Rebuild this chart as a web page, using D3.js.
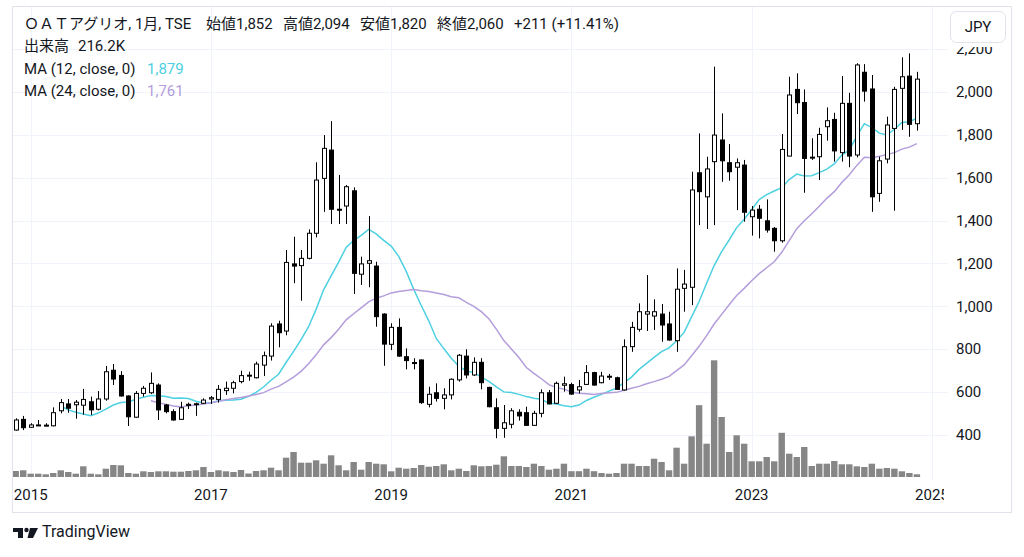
<!DOCTYPE html>
<html><head><meta charset="utf-8">
<script src="https://cdn.jsdelivr.net/npm/d3@7"></script>
<style>
html,body{margin:0;padding:0;background:#fff;}
svg text{font-family: Roboto, "Noto Sans CJK JP", sans-serif;}
</style></head><body>
<svg id="c" width="1024" height="557"></svg>
<script>
// Monthly bars Nov 2014 – Nov 2024
const firstMonth = new Date(Date.UTC(2014, 10, 1));
const opens = [423,473,436,446,446,443,513,545,541,539, 555,520,568,702,678,582,483,594,597,633, 540,509,473,538,544,548,568,566,607,618, 649,675,667,726,768,918,885,1198,1190,1224, 1341,1597,1729,1453,1468,1539,1150,1201,1188,964, 823,902,765,738,750,543,597,571,587,657, 768,680,739,622,527,431,450,506,504,445, 501,597,548,632,635,610,636,691,644,670, 667,610,812,893,964,955,964,918,840,1084, 1089,1623,1511,1675,1776,1670,1649,1659,1418,1453, 1399,1364,1306,1701,2012,1951,1692,1698,1838,1872, 1717,1947,1706,2092,2014,1527,1687,1830,2017,2074, 1852];
const highs = [478,489,455,470,455,529,568,568,563,615, 579,605,722,731,698,585,605,629,692,641, 545,520,555,551,551,571,582,633,649,653, 700,695,742,789,921,933,1263,1325,1263,1359, 1672,1799,1864,1613,1566,1555,1232,1421,1208,968, 921,944,804,758,752,625,641,618,664,778, 800,762,758,625,571,540,525,520,532,513, 613,610,649,672,644,657,726,695,695,685, 672,846,928,1014,1146,1033,1011,975,1177,1170, 1628,1807,1698,2118,1900,1757,1690,1683,1468,1473, 1499,1370,1804,2071,2087,2012,1784,1833,1928,1903, 2074,1996,2134,2130,2079,1698,1885,2024,2162,2180, 2094];
const lows = [420,423,434,442,442,440,501,504,476,495, 493,515,560,633,579,442,480,579,591,470, 501,467,470,521,489,545,545,551,587,594, 641,653,664,675,747,809,865,1108,1026,1219, 1322,1441,1384,1384,1384,1058,1100,1089,905,723, 796,765,706,706,545,529,556,520,566,649, 664,675,613,529,385,387,431,467,442,442, 483,543,545,602,587,594,633,630,641,657, 610,607,788,882,885,890,835,840,788,975, 1006,1379,1361,1379,1581,1586,1449,1395,1330,1317, 1344,1255,1297,1701,1897,1530,1683,1589,1773,1675, 1675,1649,1695,1955,1441,1488,1667,1446,1823,1791, 1820];
const closes = [470,434,447,447,445,504,551,525,553,566, 517,568,695,661,582,485,594,618,641,517, 509,470,527,543,546,563,574,613,618,644, 677,679,731,770,908,877,1205,1188,1224,1341, 1589,1737,1453,1450,1558,1154,1198,1213,952,824, 902,768,747,734,551,590,571,587,660,772, 680,739,644,532,431,457,513,489,445,501, 597,545,641,639,591,625,691,633,675,674, 613,812,902,975,975,975,913,843,1080,1104, 1543,1535,1641,1799,1679,1628,1670,1439,1449,1411, 1356,1306,1732,1986,1950,1690,1696,1802,1866,1725, 1947,1701,2126,2004,1511,1679,1846,2012,2071,1849, 2060];
const volumesK = [480,536,264,264,216,320,536,400,264,856, 264,216,664,960,936,320,264,456,400,456, 456,424,424,480,536,800,400,536,456,400, 560,280,480,536,744,536,1544,2000,1144,1144, 1336,1064,1736,936,536,1200,584,1200,1064,1016, 456,744,664,720,960,824,880,1016,536,664, 480,936,856,880,984,1656,880,880,800,1064, 880,584,664,1064,464,464,664,464,320,264, 320,1064,1064,880,880,1464,1200,536,2344,1064, 3256,5744,2664,9336,4800,2000,3336,2664,1256,1256, 1600,1256,3536,1864,1600,2400,880,1064,1064,1280, 1016,1016,856,800,1064,664,720,664,456,320, 216.2];
// closes of the five months before the visible window (Jun–Oct 2014), used only by the moving averages
const priorCloses = [741,685,662,613,423];
const priceTicks = [400,600,800,1000,1200,1400,1600,1800,2000,2200];
const yearTicks = [2015,2017,2019,2021,2023,2025];
const maPeriods = [12, 24];
const maColors = ["#4dd0e1", "#b39ddb"];

const months = d3.utcMonth.range(firstMonth, d3.utcMonth.offset(firstMonth, opens.length));
const bars = months.map((m,i)=>({i, m, o:opens[i], h:highs[i], l:lows[i], c:closes[i], v:volumesK[i]}));

const svg = d3.select("#c");
const W = 1024, H = 557;
const plot = {l:13, r:948, t:7, b:480};
const FS = 15;

const x = d3.scaleLinear().domain([0, opens.length-1]).range([15.7, 916.9]);
const monthIdx = (yr) => (yr - firstMonth.getUTCFullYear())*12 - firstMonth.getUTCMonth();
const y = d3.scaleLinear().domain([400, 2200]).range([435, 49.1]);
const yv = d3.scaleLinear().domain([0, d3.max(volumesK)]).range([477, 360.3]);

svg.append("rect").attr("width", W).attr("height", H).attr("fill", "#fff");

const defs = svg.append("defs");
defs.append("clipPath").attr("id","clipPlot").append("rect")
  .attr("x", plot.l).attr("y", plot.t).attr("width", plot.r-plot.l).attr("height", plot.b-plot.t);
defs.append("clipPath").attr("id","clipTime").append("rect")
  .attr("x", plot.l).attr("y", plot.b).attr("width", 944-plot.l).attr("height", 32);

// grid
const grid = svg.append("g").attr("clip-path","url(#clipPlot)");
grid.selectAll("line.h").data(priceTicks).join("line")
  .attr("x1", plot.l).attr("x2", plot.r)
  .attr("y1", d=>Math.round(y(d))+0.5).attr("y2", d=>Math.round(y(d))+0.5)
  .attr("stroke", "#f0f3fa").attr("stroke-width", 1);
grid.selectAll("line.v").data(yearTicks).join("line")
  .attr("y1", plot.t).attr("y2", plot.b)
  .attr("x1", d=>Math.round(x(monthIdx(d)))+0.5).attr("x2", d=>Math.round(x(monthIdx(d)))+0.5)
  .attr("stroke", "#f0f3fa").attr("stroke-width", 1);

const g = svg.append("g").attr("clip-path","url(#clipPlot)");

// volume
g.append("g").selectAll("rect").data(bars).join("rect")
  .attr("x", d=>x(d.i)-3.2).attr("width", 6.4)
  .attr("y", d=>yv(d.v)).attr("height", d=>yv(0)-yv(d.v))
  .attr("fill", "#868686");

// moving averages
const allCloses = priorCloses.concat(closes);
const off = priorCloses.length;
maPeriods.forEach((n, k) => {
  const pts = [];
  bars.forEach(b => {
    const j = b.i + off;
    if (j >= n-1) pts.push({i:b.i, v:d3.mean(allCloses.slice(j-n+1, j+1))});
  });
  g.append("path").datum(pts)
    .attr("d", d3.line().x(d=>x(d.i)).y(d=>y(d.v)))
    .attr("fill","none").attr("stroke", maColors[k]).attr("stroke-width", 1.5);
});

// candles
const cg = g.append("g");
cg.selectAll("line").data(bars).join("line")
  .attr("x1", d=>Math.round(x(d.i))+0.5).attr("x2", d=>Math.round(x(d.i))+0.5)
  .attr("y1", d=>y(d.h)).attr("y2", d=>y(d.l))
  .attr("stroke", "#000").attr("stroke-width", 1);
cg.selectAll("rect").data(bars).join("rect")
  .attr("x", d=>Math.round(x(d.i))-2+0.5).attr("width", 4)
  .attr("y", d=>y(Math.max(d.o,d.c))).attr("height", d=>Math.max(1, y(Math.min(d.o,d.c))-y(Math.max(d.o,d.c))))
  .attr("fill", d=>d.c>=d.o ? "#fff" : "#000")
  .attr("stroke", "#000").attr("stroke-width", 1);

// price axis labels
svg.append("g").selectAll("text").data(priceTicks).join("text")
  .attr("x", 956).attr("y", d=>y(d)).attr("dy","0.35em")
  .attr("font-size", FS).attr("fill", "#131722")
  .text(d=>d3.format(",")(d));

// time axis labels
svg.append("g").attr("clip-path","url(#clipTime)").selectAll("text").data(yearTicks).join("text")
  .attr("x", d=>x(monthIdx(d))).attr("y", 495).attr("dy","0.35em")
  .attr("text-anchor","middle").attr("font-size", FS).attr("fill", "#131722")
  .text(d=>d);

// frame
svg.append("rect").attr("x", 12.5).attr("y", 6.5).attr("width", 999).attr("height", 506)
  .attr("fill","none").attr("stroke","#e0e3eb").attr("stroke-width",1);

// JPY button (its white backing hides the top of the 2,200 label)
svg.append("rect").attr("x", 949).attr("y", 7).attr("width", 62).attr("height", 40).attr("fill","#fff");
svg.append("rect").attr("x", 950.5).attr("y", 11.5).attr("width", 55).attr("height", 31).attr("rx", 6)
  .attr("fill","#fff").attr("stroke","#e0e3eb");
svg.append("text").attr("x", 978).attr("y", 27).attr("dy","0.35em").attr("text-anchor","middle")
  .attr("font-size", FS).attr("fill","#131722").text("JPY");

// legend
const leg = svg.append("g").attr("font-size", FS).attr("fill", "#131722");
const row1 = [["ＯＡＴアグリオ, 1月, TSE", 24], ["始値1,852", 206], ["高値2,094", 283], ["安値1,820", 360], ["終値2,060", 437], ["+211 (+11.41%)", 514]];
row1.forEach(([t, xx]) => leg.append("text").attr("x", xx).attr("y", 24).attr("dy","0.35em").text(t));
leg.append("text").attr("x", 24).attr("y", 46).attr("dy","0.35em").text("出来高");
leg.append("text").attr("x", 78).attr("y", 46).attr("dy","0.35em").text("216.2K");
const maRows = [["MA (12, close, 0)", "1,879"], ["MA (24, close, 0)", "1,761"]];
maRows.forEach(([t, v], k) => {
  leg.append("text").attr("x", 24).attr("y", 69 + k*22).attr("dy","0.35em").text(t);
  leg.append("text").attr("x", 147).attr("y", 69 + k*22).attr("dy","0.35em").attr("fill", maColors[k]).text(v);
});

// TradingView logo
const logo = svg.append("g").attr("fill", "#131722");
logo.append("path").attr("d", "M13,528 H23 V538 H18 V532 H13 Z");
logo.append("circle").attr("cx", 26.5).attr("cy", 530).attr("r", 2.2);
logo.append("path").attr("d", "M30,528 H38 L33,538 H27.5 Z");
svg.append("text").attr("x", 42).attr("y", 537).attr("font-size", 16).attr("fill", "#131722").text("TradingView");
</script>
</body></html>
